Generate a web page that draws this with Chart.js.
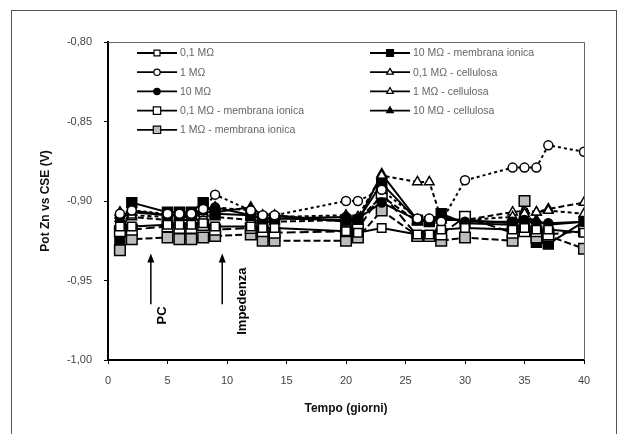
<!DOCTYPE html>
<html>
<head>
<meta charset="utf-8">
<script src="https://cdn.jsdelivr.net/npm/chart.js"></script>
<style>
  html, body { margin: 0; padding: 0; background: #fff; }
</style>
</head>
<body>
<canvas id="myChart" width="626" height="434"></canvas>
<script>
// -- Measurement days.
const days = [1, 2, 5, 6, 7, 8, 9, 12, 13, 14, 20, 21, 23, 26, 27, 28, 30, 34, 35, 36, 37, 40];

// -- Zn potential vs CSE (V), one array per series.
const pot_01   = [-0.916, -0.916, -0.915, -0.915, -0.915, -0.914, -0.916, -0.916, -0.917, -0.917, -0.919, -0.920, -0.917, -0.921, -0.921, -0.918, -0.917, -0.918, -0.917, -0.918, -0.918, -0.920];
const pot_1    = [-0.908, -0.906, -0.908, -0.908, -0.908, -0.905, -0.896, -0.906, -0.909, -0.909, -0.900, -0.900, -0.893, -0.911, -0.911, -0.913, -0.887, -0.879, -0.879, -0.879, -0.865, -0.869];
const pot_10   = [-0.910, -0.906, -0.909, -0.909, -0.909, -0.906, -0.904, -0.909, -0.911, -0.911, -0.910, -0.911, -0.901, -0.912, -0.912, -0.910, -0.913, -0.913, -0.912, -0.914, -0.914, -0.913];
const pot_01_m = [-0.919, -0.918, -0.916, -0.917, -0.917, -0.915, -0.918, -0.917, -0.919, -0.920, -0.919, -0.918, -0.895, -0.922, -0.922, -0.921, -0.910, -0.920, -0.919, -0.919, -0.921, -0.919];
const pot_1_m  = [-0.931, -0.924, -0.923, -0.924, -0.924, -0.923, -0.922, -0.921, -0.925, -0.925, -0.925, -0.923, -0.906, -0.922, -0.922, -0.925, -0.923, -0.925, -0.900, -0.923, -0.922, -0.930];
const pot_10_m = [-0.925, -0.901, -0.907, -0.907, -0.907, -0.901, -0.908, -0.909, -0.911, -0.911, -0.912, -0.912, -0.889, -0.912, -0.913, -0.908, -0.914, -0.915, -0.916, -0.926, -0.927, -0.913];
const pot_01_c = [-0.907, -0.909, -0.910, -0.910, -0.910, -0.908, -0.904, -0.906, -0.910, -0.910, -0.909, -0.910, -0.884, -0.888, -0.888, -0.911, -0.912, -0.910, -0.908, -0.907, -0.906, -0.908];
const pot_1_c  = [-0.909, -0.910, -0.912, -0.912, -0.912, -0.910, -0.910, -0.912, -0.913, -0.913, -0.912, -0.912, -0.897, -0.913, -0.913, -0.912, -0.912, -0.907, -0.906, -0.907, -0.905, -0.901];
const pot_10_c = [-0.911, -0.907, -0.909, -0.909, -0.909, -0.907, -0.907, -0.904, -0.909, -0.909, -0.913, -0.913, -0.883, -0.912, -0.912, -0.912, -0.912, -0.914, -0.911, -0.912, -0.915, -0.913];

const series_labels = [
  '0,1 MΩ', '1 MΩ', '10 MΩ',
  '0,1 MΩ - membrana ionica', '1 MΩ - membrana ionica', '10 MΩ - membrana ionica',
  '0,1 MΩ - cellulosa', '1 MΩ - cellulosa', '10 MΩ - cellulosa',
];
const series_values = [pot_01, pot_1, pot_10, pot_01_m, pot_1_m, pot_10_m, pot_01_c, pot_1_c, pot_10_c];

// -- Annotations: arrow (day, from -> to) and caption centre (value).
const notes = [
  {text: 'PC',        day: 3.6, from: -0.965, to: -0.933, text_at: -0.972, dx: 12},
  {text: 'Impedenza', day: 9.6, from: -0.965, to: -0.933, text_at: -0.963, dx: 20},
];

// -- Marker / line look per series.
const looks = [
  {style: 'rect',     r: 6,   fill: '#fff',    dash: []},
  {style: 'circle',   r: 4.5, fill: '#fff',    dash: [3, 3]},
  {style: 'circle',   r: 4.5, fill: '#000',    dash: []},
  {style: 'rect',     r: 7.5, fill: '#fff',    dash: [9, 4]},
  {style: 'rect',     r: 7.5, fill: '#bdbdbd', dash: [7, 3]},
  {style: 'rect',     r: 7,   fill: '#000',    dash: []},
  {style: 'triangle', r: 5.5, fill: '#fff',    dash: [4, 3]},
  {style: 'triangle', r: 5.5, fill: '#fff',    dash: [6, 3]},
  {style: 'triangle', r: 5.5, fill: '#000',    dash: []},
];

const datasets = series_values.map((vals, i) => ({
  label: series_labels[i],
  data: days.map((d, k) => ({x: d, y: vals[k]})),
  borderColor: '#000',
  borderWidth: 2,
  borderDash: looks[i].dash,
  pointStyle: looks[i].style,
  pointRadius: looks[i].r,
  pointBackgroundColor: looks[i].fill,
  pointBorderColor: '#000',
  pointBorderWidth: 1.5,
  tension: 0,
  fill: false,
}));

// -- Draw a marker like Chart.js does (used by the legend).
const draw_marker = (ctx, style, r, x, y) => {
  ctx.beginPath();
  if (style === 'circle') {
    ctx.arc(x, y, r, 0, 2 * Math.PI);
  } else if (style === 'rect') {
    const s = r * Math.SQRT1_2;
    ctx.rect(x - s, y - s, 2 * s, 2 * s);
  } else {
    let a = 0;
    ctx.moveTo(x + Math.sin(a) * r, y - Math.cos(a) * r);
    a += 2 * Math.PI / 3;
    ctx.lineTo(x + Math.sin(a) * r, y - Math.cos(a) * r);
    a += 2 * Math.PI / 3;
    ctx.lineTo(x + Math.sin(a) * r, y - Math.cos(a) * r);
  }
  ctx.closePath();
  ctx.fill();
  ctx.stroke();
};

// -- Frame, plot box, legend and arrows.
const decor = {
  id: 'decor',
  beforeDraw(chart) {
    const ctx = chart.ctx;
    ctx.save();
    ctx.fillStyle = '#fff';
    ctx.fillRect(0, 0, chart.width, chart.height);
    ctx.strokeStyle = '#555';
    ctx.lineWidth = 1;
    ctx.strokeRect(11.5, 10.5, 605, 440);
    ctx.restore();
  },
  afterDraw(chart) {
    const ctx = chart.ctx;
    const {left, right, top, bottom} = chart.chartArea;
    const xs = chart.scales.x, ys = chart.scales.y;
    ctx.save();

    // -- Top / right edges of the plot box.
    ctx.strokeStyle = '#666';
    ctx.lineWidth = 1;
    ctx.beginPath();
    ctx.moveTo(left, top + 0.5);
    ctx.lineTo(right + 0.5, top + 0.5);
    ctx.lineTo(right + 0.5, bottom);
    ctx.stroke();

    // -- Legend: two columns, five rows then four.
    ctx.font = '10.5px "Liberation Sans", Arial, sans-serif';
    ctx.textBaseline = 'middle';
    chart.data.datasets.forEach((ds, i) => {
      const col = i < 5 ? 0 : 1;
      const row = i < 5 ? i : i - 5;
      const x0 = col === 0 ? 137 : 370;
      const y0 = 53 + row * 19.2;
      ctx.strokeStyle = '#000';
      ctx.lineWidth = 1.8;
      ctx.setLineDash([]);
      ctx.beginPath();
      ctx.moveTo(x0, y0);
      ctx.lineTo(x0 + 40, y0);
      ctx.stroke();
      ctx.lineWidth = 1.2;
      ctx.fillStyle = looks[i].fill;
      draw_marker(ctx, looks[i].style, looks[i].r * 0.7, x0 + 20, y0);
      ctx.fillStyle = '#666';
      ctx.fillText(ds.label, x0 + 43, y0 + 0.5);
    });

    // -- Arrows with rotated captions.
    ctx.setLineDash([]);
    notes.forEach((n) => {
      const x = xs.getPixelForValue(n.day);
      const y1 = ys.getPixelForValue(n.from);
      const y2 = ys.getPixelForValue(n.to);
      ctx.strokeStyle = '#000';
      ctx.fillStyle = '#000';
      ctx.lineWidth = 1.5;
      ctx.beginPath();
      ctx.moveTo(x, y1);
      ctx.lineTo(x, y2 + 6);
      ctx.stroke();
      ctx.beginPath();
      ctx.moveTo(x, y2);
      ctx.lineTo(x - 3.5, y2 + 9);
      ctx.lineTo(x + 3.5, y2 + 9);
      ctx.closePath();
      ctx.fill();

      ctx.save();
      ctx.translate(x + n.dx, ys.getPixelForValue(n.text_at));
      ctx.rotate(-Math.PI / 2);
      ctx.font = 'bold 13px "Liberation Sans", Arial, sans-serif';
      ctx.textAlign = 'center';
      ctx.textBaseline = 'middle';
      ctx.fillText(n.text, 0, 0);
      ctx.restore();
    });
    ctx.restore();
  },
};

const tick_font = {family: '"Liberation Sans", Arial, sans-serif', size: 11};
const title_font = {family: '"Liberation Sans", Arial, sans-serif', size: 12, weight: 'bold'};

const chart = new Chart(document.getElementById('myChart'), {
  type: 'line',
  data: {datasets},
  plugins: [decor],
  options: {
    responsive: false,
    animation: false,
    events: [],
    layout: {padding: {left: 30, top: 42, right: 42, bottom: 0}},
    plugins: {
      legend: {display: false},
      tooltip: {enabled: false},
    },
    scales: {
      x: {
        type: 'linear',
        min: 0,
        max: 40,
        ticks: {stepSize: 5, color: '#444', font: tick_font, padding: 10, maxRotation: 0},
        grid: {drawOnChartArea: false, drawTicks: true, tickLength: 4, color: '#000'},
        border: {color: '#000', width: 2},
        title: {display: true, text: 'Tempo (giorni)', color: '#111', font: title_font, padding: {top: 0, bottom: 18}},
        afterFit: (s) => { s.height = 74; },
      },
      y: {
        type: 'linear',
        min: -1.0,
        max: -0.8,
        ticks: {
          stepSize: 0.05,
          color: '#444',
          font: tick_font,
          padding: 12,
          callback: (v) => v.toFixed(2).replace('.', ','),
        },
        grid: {drawOnChartArea: false, drawTicks: true, tickLength: 4, color: '#000'},
        border: {color: '#000', width: 2},
        title: {display: true, text: 'Pot Zn vs CSE (V)', color: '#111', font: title_font, padding: {top: 8, bottom: 0}},
        afterFit: (s) => { s.width = 78; },
      },
    },
  },
});
</script>
</body>
</html>
